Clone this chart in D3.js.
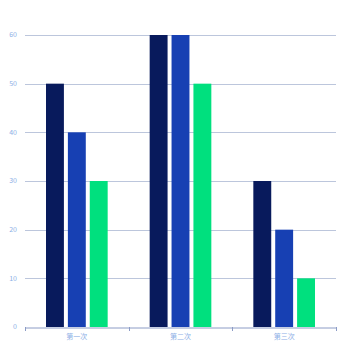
<!DOCTYPE html>
<head>
<meta charset="utf-8">
<script src="https://cdn.jsdelivr.net/npm/d3@7"></script>
<style>
  body { margin: 0; background: #fff; }
  text { font-family: "Noto Sans CJK SC", "Noto Sans", sans-serif; }
</style>
</head>
<body>
<div id="chart"></div>
<script>
  const categories = ["第一次", "第二次", "第三次"];
  const seriesNames = ["a", "b", "c"];
  const seriesA = [50, 60, 30];
  const seriesB = [40, 60, 20];
  const seriesC = [30, 50, 10];
  const yTicks = [0, 10, 20, 30, 40, 50, 60];
  const colors = ["#081a5c", "#1740b3", "#00e07e"];

  const width = 350, height = 350;
  const margin = { top: 35, right: 14, bottom: 23, left: 25 };
  const seriesData = [seriesA, seriesB, seriesC];

  const svg = d3.select("#chart").append("svg")
    .attr("width", width)
    .attr("height", height);

  const x = d3.scaleBand()
    .domain(categories)
    .range([margin.left, width - margin.right]);

  const x1 = d3.scaleBand()
    .domain(seriesNames)
    .range([21, x.bandwidth() - 21])
    .paddingInner(4 / 22);

  const y = d3.scaleLinear()
    .domain([0, 60])
    .range([height - margin.bottom, margin.top]);

  // grid lines
  svg.append("g")
    .selectAll("line")
    .data(yTicks.filter(d => d > 0))
    .enter().append("line")
    .attr("x1", margin.left)
    .attr("x2", width - margin.right)
    .attr("y1", d => Math.round(y(d)) + 0.5)
    .attr("y2", d => Math.round(y(d)) + 0.5)
    .attr("stroke", "#bcc6dc")
    .attr("stroke-width", 1);

  // y labels
  svg.append("g")
    .selectAll("text")
    .data(yTicks)
    .enter().append("text")
    .attr("x", 17)
    .attr("y", d => y(d))
    .attr("dy", "0.35em")
    .attr("text-anchor", "end")
    .attr("font-size", 7)
    .attr("fill", "#8eb0e6")
    .text(d => d);

  // bars
  const groups = svg.append("g")
    .selectAll("g")
    .data(categories)
    .enter().append("g")
    .attr("transform", d => `translate(${x(d)},0)`);

  groups.selectAll("rect")
    .data((c, i) => seriesNames.map((s, j) => ({ s, j, v: seriesData[j][i] })))
    .enter().append("rect")
    .attr("x", d => x1(d.s))
    .attr("width", x1.bandwidth())
    .attr("y", d => y(d.v))
    .attr("height", d => y(0) - y(d.v))
    .attr("fill", d => colors[d.j]);

  // x axis
  const xAxis = svg.append("g")
    .attr("transform", `translate(0,${Math.round(y(0)) + 0.5})`)
    .call(d3.axisBottom(x).tickSize(0).tickPadding(7));
  xAxis.select(".domain").attr("stroke", "#8c9cc6");
  xAxis.selectAll("text")
    .attr("font-size", 7)
    .attr("fill", "#8eb0e6");

  svg.append("g")
    .selectAll("line")
    .data(x.domain().map(d => x(d)).concat([width - margin.right]))
    .enter().append("line")
    .attr("x1", d => Math.round(d) + 0.5)
    .attr("x2", d => Math.round(d) + 0.5)
    .attr("y1", Math.round(y(0)))
    .attr("y2", Math.round(y(0)) + 4)
    .attr("stroke", "#8c9cc6");
</script>
</body>
